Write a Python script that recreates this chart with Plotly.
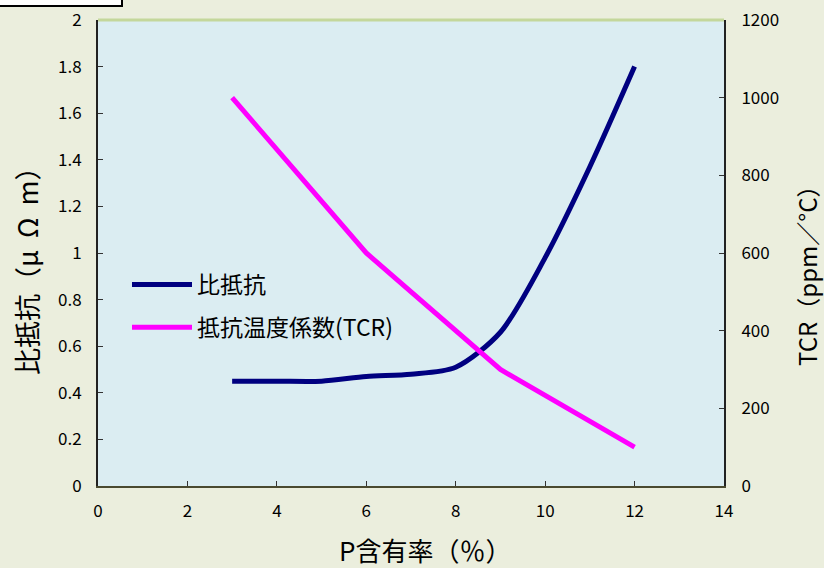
import plotly.graph_objects as go

# Data
p_content = [3, 4, 5, 6, 7, 8, 9, 10, 11, 12]
resistivity = [0.45, 0.45, 0.45, 0.47, 0.48, 0.51, 0.66, 0.98, 1.37, 1.80]
tcr_x = [3, 6, 9, 12]
tcr = [1000, 600, 300, 100]

x_title = "P含有率（％）"
y_title = "比抵抗（μ\u00a0\u00a0Ω\u00a0\u00a0m）"
y2_title = "TCR（ppm／°C）"
names = ["比抵抗", "抵抗温度係数(TCR)"]

FONT = "Noto Sans CJK JP"

fig = go.Figure()
fig.add_trace(go.Scatter(
    x=p_content, y=resistivity, name=names[0], mode="lines", legendgroup="a",
    line=dict(color="#000080", width=5, shape="spline", smoothing=0.8),
    yaxis="y"))
fig.add_trace(go.Scatter(
    x=tcr_x, y=tcr, name=names[1], mode="lines", legendgroup="b",
    line=dict(color="#FF00FF", width=5),
    yaxis="y2"))

W, H = 824, 568
L, R, T, B = 98, 100, 20, 82
pw = W - L - R
ph = H - T - B

def px(xp):
    return (xp - L) / pw

def py(yp):
    return (H - B - yp) / ph

axis_common = dict(showgrid=False, zeroline=False, ticks="inside", ticklen=5,
                   tickcolor="#333333", showline=True, linewidth=2,
                   tickfont=dict(size=17), automargin=False)

fig.update_layout(
    width=W, height=H,
    margin=dict(l=L, r=R, t=T, b=B, pad=0, autoexpand=False),
    paper_bgcolor="#EBEEDD",
    plot_bgcolor="#DBEDF2",
    font=dict(family=FONT, color="#000000", size=17),
    showlegend=True,
    legend=dict(x=px(127), y=py(306), xanchor="left", yanchor="middle",
                bgcolor="rgba(0,0,0,0)", font=dict(size=23, family=FONT),
                itemwidth=60, tracegroupgap=10, traceorder="grouped"),
    xaxis=dict(range=[0, 14], dtick=2, linecolor="#4a4a30",
               ticklabelstandoff=9, **axis_common),
    yaxis=dict(range=[0, 2], dtick=0.2, linecolor="#222222",
               ticklabelstandoff=11, **axis_common),
    yaxis2=dict(range=[0, 1200], dtick=200, overlaying="y", side="right",
                linecolor="#222222", ticklabelstandoff=12, **axis_common),
)

fig.add_annotation(text=x_title, xref="paper", yref="paper", x=px(425), y=py(549),
                   xanchor="center", yanchor="middle", showarrow=False,
                   font=dict(size=26, family=FONT))
fig.add_annotation(text=y_title, xref="paper", yref="paper", x=px(26), y=py(264),
                   xanchor="center", yanchor="middle", showarrow=False, textangle=-90,
                   font=dict(size=27, family=FONT))
fig.add_annotation(text=y2_title, xref="paper", yref="paper", x=px(806), y=py(270),
                   xanchor="center", yanchor="middle", showarrow=False, textangle=-90,
                   font=dict(size=24, family=FONT))

# top border of plot area
fig.add_shape(type="line", xref="paper", yref="paper", x0=0, x1=1, y0=1, y1=1,
              line=dict(color="#C4D79B", width=3), layer="above")
# white box at top-left
fig.add_shape(type="rect", xref="paper", yref="paper",
              x0=px(-2), x1=px(122), y0=py(6), y1=py(-5),
              line=dict(color="#000000", width=2), fillcolor="#FFFFFF")

fig.write_html("out.html",
               config={"displayModeBar": False},
               post_script="document.body.style.margin='0';document.body.style.background='#EBEEDD';")
